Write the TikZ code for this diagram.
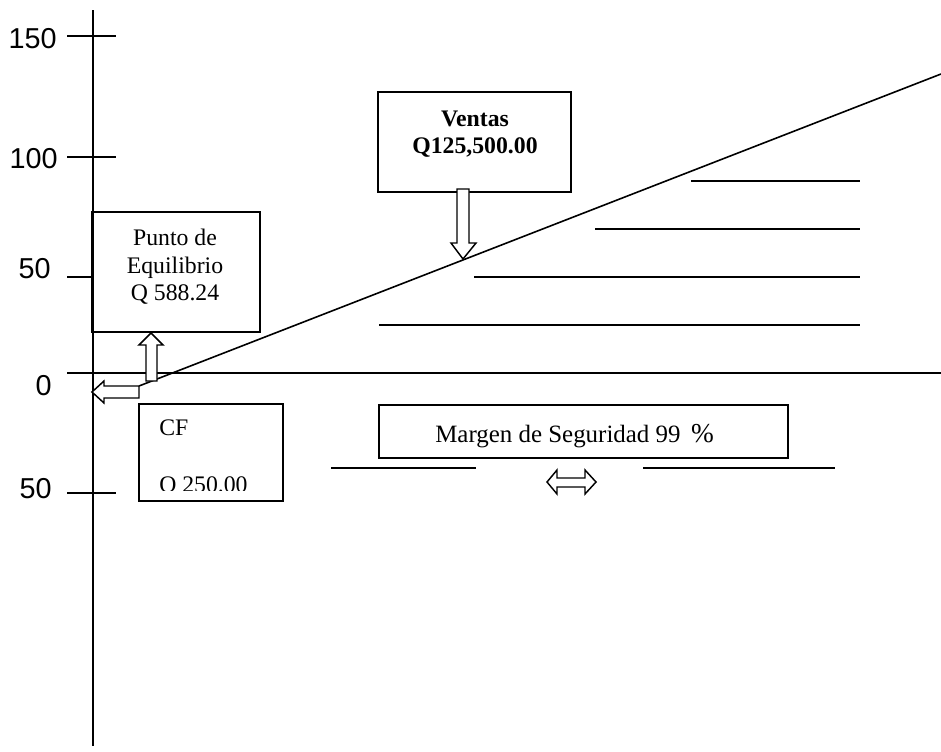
\documentclass[tikz,border=0pt]{standalone}
\usepackage{fontspec}
\setmainfont{Liberation Serif}
\newfontfamily\numfont{Liberation Sans}
\usepackage{tikz}

\tikzset{
  axisline/.style={line width=1.2pt},
  box/.style={draw, line width=1.1pt, rectangle, inner sep=0pt},
  boxtext/.style={inner sep=0pt, font=\fontsize{17.8pt}{20.6pt}\selectfont},
  ticklabel/.style={inner sep=0pt, anchor=base east, font=\numfont\fontsize{21.6pt}{26pt}\selectfont},
  blockarrow/.style={draw, fill=white, line width=1.1pt, line join=miter},
  fillline/.style={line width=1.1pt}
}

\begin{document}
\begin{tikzpicture}[x=0.75pt, y=-0.75pt]
    \useasboundingbox (0,0) rectangle (941,751);

    % axes
    \draw[axisline] (93,10) -- (93,746);
    \draw[axisline] (67,373) -- (941,373);
    \draw[line width=2.2pt] (67,373) -- (116,373);
    \draw[axisline] (67,36) -- (116,36);
    \draw[axisline] (67,157) -- (116,157);
    \draw[axisline] (67,277) -- (93,277);
    \draw[axisline] (67,493) -- (116,493);
    \node[ticklabel] (l150) at (57,48) {150};
    \node[ticklabel] (l100) at (58,168) {100};
    \node[ticklabel] (l50) at (51,278) {50};
    \node[ticklabel] (l0) at (52,395) {0};
    \node[ticklabel] (lm50) at (52,498) {50};

    % lines under the sales line
    \draw[fillline] (691,181) -- (860,181);
    \draw[fillline] (595,229) -- (860,229);
    \draw[fillline] (474,277) -- (860,277);
    \draw[fillline] (379,325) -- (860,325);

    % sales line
    \coordinate (start) at (139,386);
    \coordinate (stop) at (941,74);
    \draw[axisline] (start) -- (stop);

    % boxes
    \node[box, minimum width=126pt, minimum height=90pt] (punto) at (176,272) {};
    \node[boxtext, anchor=base] (punto1) at (175,245) {Punto de};
    \node[boxtext, anchor=base] (punto2) at (175,273) {Equilibrio};
    \node[boxtext, anchor=base] (punto3) at (175,300) {Q 588.24};

    \node[box, minimum width=144.75pt, minimum height=75pt] (ventas) at (474.5,142) {};
    \node[boxtext, anchor=base, font=\fontsize{17.8pt}{20.6pt}\selectfont\bfseries] (ventas1) at (475,126) {Ventas};
    \node[boxtext, anchor=base, font=\fontsize{17.8pt}{20.6pt}\selectfont\bfseries] (ventas2) at (475,153) {Q125,500.00};

    \node[box, minimum width=108pt, minimum height=72.75pt] (cf) at (211,452.5) {};
    \begin{scope}
      \clip (139,404) rectangle (283,490);
      \node[boxtext, anchor=base west] (cf1) at (159,435) {CF};
      \node[boxtext, anchor=base west] (cf2) at (159,492) {Q 250.00};
    \end{scope}

    \node[box, minimum width=306.75pt, minimum height=39.75pt] (margen) at (583.5,431.5) {};
    \node[boxtext, anchor=base west, font=\fontsize{18.7pt}{22pt}\selectfont] (margen1) at (435,442) {Margen de Seguridad 99 \,{\fontsize{20.5pt}{22pt}\selectfont\%}};
    \draw[fillline] (331,468) -- (476,468);
    \draw[fillline] (643,468) -- (835,468);

    % block arrows
    \draw[blockarrow] (139,386) -- (104,386) -- (104,381) -- (92,392) -- (104,403) -- (104,398) -- (139,398) -- cycle;
    \draw[blockarrow] (146,381) -- (146,345) -- (139,345) -- (151,333) -- (163,345) -- (157,345) -- (157,381) -- cycle;
    \draw[blockarrow] (457,189) -- (469,189) -- (469,243) -- (476,243) -- (463,259) -- (451,243) -- (457,243) -- cycle;
    \draw[blockarrow] (547,482) -- (557,470) -- (557,478) -- (585,478) -- (585,470) -- (596,482) -- (585,494) -- (585,487) -- (557,487) -- (557,494) -- cycle;
\end{tikzpicture}
\end{document}
